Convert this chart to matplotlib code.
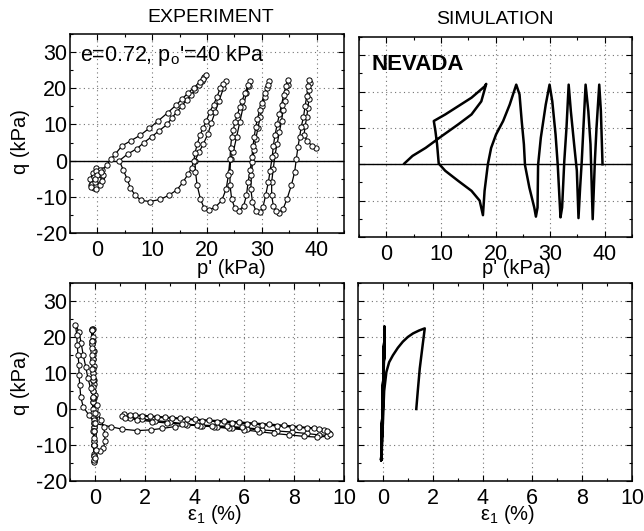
import matplotlib
matplotlib.use("Agg")
import matplotlib.pyplot as plt
from matplotlib.ticker import MultipleLocator

plt.rcParams['font.family'] = ['Liberation Sans', 'DejaVu Sans']
plt.rcParams['mathtext.fontset'] = 'custom'
plt.rcParams['mathtext.rm'] = 'Liberation Sans'
plt.rcParams['mathtext.it'] = 'Liberation Sans:italic'
plt.rcParams['axes.unicode_minus'] = False

# ---------------- data ----------------
# Experiment: effective stress path (p', q)
exp_p = [39.8, 39.2, 38.3, 37.7, 37.9, 38.2, 38.4, 38.6, 38.7, 38.8, 38.7,
         38.5, 38.2, 37.9, 37.6, 37.2, 36.9, 36.6, 36.3,
         36.0, 35.4, 34.6, 33.9, 33.1, 32.5, 32.1, 31.8, 31.8, 32.1,
         32.4, 32.8, 33.2, 33.6, 33.9, 34.2, 34.5, 34.7, 34.7,
         34.4, 34.0, 33.6, 33.2, 32.8, 32.4, 32.1, 31.9,
         31.5, 31.2, 30.7, 30.2, 29.6, 28.9, 28.3, 28.0, 28.1, 28.3,
         28.6, 28.9, 29.3, 29.7, 30.1, 30.5, 30.9, 31.3,
         31.1, 30.5, 30.0, 29.6, 29.2, 28.9, 28.6, 28.4, 28.2,
         27.9, 27.5, 27.2, 26.7, 25.9, 25.1, 24.5, 24.2, 24.2, 24.3,
         24.8, 25.4, 26.0, 26.6, 27.2, 27.6, 27.9,
         27.5, 26.9, 26.4, 26.0, 25.5, 25.1, 24.8, 24.5, 24.3, 24.2,
         23.9, 23.5, 22.7, 21.5, 20.4, 19.5, 18.8, 18.2, 17.9, 17.8,
         18.6, 19.3, 20.2, 20.8, 21.5, 22.2, 23.0, 23.4,
         23.0, 22.4, 21.8, 21.2, 20.5, 19.9, 19.3, 18.7, 18.2, 17.8, 17.6,
         17.2, 16.6, 15.6, 14.5, 13.0, 11.5, 9.6, 8.0, 6.9, 6.0, 5.4, 4.7, 4.0,
         5.5, 7.2, 8.5, 9.9, 11.3, 12.7, 13.6, 14.5, 15.4, 16.3, 17.1, 17.8, 18.5, 19.0, 19.5,
         19.9, 19.3, 18.7, 17.6, 16.6, 15.5, 14.4, 12.8, 11.1, 9.5, 7.8, 6.1, 4.5, 3.3, 2.5, 1.7,
         0.8, 0.2, -0.5, -1.0, -1.2, -0.6, 0.2, 0.6, 0.3, -0.2, -0.8, -1.3, -1.0, -0.3,
         0.4, 0.8, 0.4, -0.3, -0.7, -0.4, 0.1, 0.0, -0.5, -1.1, -0.2, 0.5, 0.9, 1.1, 0.6]
exp_q = [3.6, 4.0, 5.5, 7.0, 9.5, 12.0, 14.5, 17.0, 19.5, 21.5, 22.3,
         20.5, 18.0, 15.0, 12.0, 9.4, 6.5, 3.8, 0.5,
         -3.1, -6.8, -10.6, -13.3, -14.4, -14.0, -12.4, -9.6, -5.9, -2.2,
         1.5, 4.7, 8.0, 11.0, 14.0, 16.5, 19.0, 21.0, 22.3,
         20.5, 18.2, 15.5, 12.8, 10.0, 7.0, 4.0, 1.0,
         -3.0, -5.9, -9.6, -12.9, -14.3, -13.8, -11.5, -7.8, -4.1, -0.5,
         3.0, 6.0, 9.0, 12.0, 15.0, 17.5, 20.0, 22.0,
         20.8, 18.6, 16.0, 14.0, 11.5, 9.4, 6.5, 4.0, 1.0,
         -2.5, -5.9, -9.6, -12.4, -13.8, -13.2, -10.6, -6.8, -3.1, 0.5,
         2.4, 6.6, 10.7, 14.9, 18.6, 20.5, 21.9,
         21.0, 18.6, 16.5, 14.9, 12.5, 10.7, 8.5, 6.6, 3.5, 0.5,
         -4.1, -7.8, -11.0, -12.9, -13.6, -13.2, -10.6, -6.8, -3.1, 0.0,
         2.5, 4.5, 7.5, 10.5, 13.5, 16.5, 20.0, 22.0,
         21.3, 20.0, 17.5, 15.5, 13.5, 11.0, 9.0, 7.0, 4.5, 2.0, 0.0,
         -2.0, -3.6, -6.0, -8.1, -9.6, -10.7, -11.3, -11.0, -9.6, -7.5, -5.0, -2.5, 0.0,
         1.8, 3.3, 5.0, 6.6, 8.3, 10.0, 11.8, 13.5, 15.1, 16.8, 18.2, 19.5, 20.8, 21.9, 23.0,
         23.7, 22.7, 21.7, 20.2, 18.8, 17.1, 15.4, 13.2, 11.0, 9.0, 7.0, 5.5, 4.1, 1.9, 0.5, -1.3,
         -2.5, -3.5, -4.0, -5.5, -6.8, -7.5, -6.5, -5.0, -3.0, -2.0, -3.5, -5.0, -6.5, -7.0,
         -5.8, -4.2, -2.5, -2.8, -4.5, -6.0, -5.2, -4.0, -5.0, -7.2, -7.8, -6.8, -5.5, -4.0, -3.2]

# Experiment: axial strain (%) vs q
exp_eps = [0.0, -0.01, -0.02, -0.03, -0.04, -0.06, -0.08,
           -0.08, -0.07, -0.06, -0.05, -0.05, -0.04, -0.04, -0.03, -0.03, -0.03,
           -0.04, -0.05, -0.06, -0.07, -0.08, -0.09, -0.10,
           -0.10, -0.09, -0.08, -0.07, -0.06, -0.05, -0.05, -0.04, -0.04, -0.03,
           -0.04, -0.05, -0.06, -0.08, -0.09, -0.10, -0.11,
           -0.11, -0.10, -0.09, -0.08, -0.07, -0.06, -0.05, -0.04, -0.03,
           -0.04, -0.05, -0.07, -0.08, -0.10, -0.11, -0.12,
           -0.11, -0.10, -0.09, -0.07, -0.05, -0.03, 0.0,
           0.10, 0.25, 0.35, 0.40, 0.40, 0.34, 0.20, 0.05, -0.02, -0.03, 0.02,
           0.07, -0.06, -0.17, -0.28, -0.37, -0.47, -0.55, -0.64, -0.78,
           -0.73, -0.71, -0.68, -0.64, -0.64, -0.61, -0.57, -0.47, -0.24,
           0.0, 0.63, 1.1, 1.7, 2.24, 2.7, 3.2, 3.7,
           4.3, 4.9, 5.5, 6.1, 6.7, 7.3, 7.9, 8.5, 9.0, 9.35,
           9.4, 9.2, 8.8,
           8.2, 7.6, 7.0, 6.4, 5.8, 5.2, 4.6, 4.0, 3.4, 2.8, 2.2, 1.6, 1.15,
           1.1, 1.4,
           1.9, 2.4, 3.0, 3.6, 4.2, 4.8, 5.4, 6.0, 6.6, 7.2, 7.8, 8.4, 8.9, 9.3, 9.45,
           9.3, 9.0, 8.5, 7.9, 7.3, 6.7, 6.1, 5.5, 4.9, 4.3, 3.7, 3.1, 2.5, 1.9, 1.4,
           1.2, 1.7, 2.3, 2.9, 3.5, 4.1, 4.7, 5.3, 5.9, 6.5]
exp_eq = [0.0, 4.0, 8.0, 12.0, 16.0, 20.0, 22.3,
          19.0, 15.0, 11.0, 7.0, 3.0, -1.0, -5.0, -9.0, -12.5, -14.4,
          -10.0, -5.0, 0.0, 5.0, 10.0, 16.0, 22.3,
          18.0, 14.0, 10.0, 6.0, 2.0, -2.0, -6.0, -10.0, -13.0, -14.6,
          -10.0, -4.0, 2.0, 8.0, 14.0, 19.0, 22.0,
          18.0, 13.0, 8.0, 3.0, -2.0, -6.0, -10.0, -13.0, -14.3,
          -9.0, -3.0, 3.0, 9.0, 15.0, 19.0, 22.0,
          17.0, 11.0, 5.0, -1.0, -6.0, -10.0, -13.6,
          -1.5, -3.0, -5.0, -7.0, -9.0, -10.9, -11.8, -11.5, -8.0, -4.0, -1.0,
          1.1, 3.4, 5.7, 8.5, 11.8, 15.0, 18.2, 21.5, 23.3,
          20.6, 17.8, 15.0, 12.2, 9.4, 6.7, 3.4, 0.6, -1.7,
          -4.0, -4.9, -5.6, -6.0, -5.8, -5.4, -4.9, -4.4,
          -4.6, -4.9, -5.2, -5.5, -5.8, -6.1, -6.4, -6.8, -7.2, -7.3,
          -6.6, -5.9, -5.3,
          -4.9, -4.5, -4.2, -3.9, -3.6, -3.3, -3.1, -2.8, -2.5, -2.2, -1.9, -1.6, -1.4,
          -2.0, -2.4,
          -2.8, -3.2, -3.6, -4.1, -4.6, -5.0, -5.4, -5.8, -6.3, -6.8, -7.2, -7.6, -7.8, -7.6, -7.0,
          -6.2, -5.6, -5.3, -5.0, -4.7, -4.4, -4.1, -3.8, -3.5, -3.2, -2.9, -2.6, -2.3, -2.0, -1.7,
          -2.4, -3.0, -3.5, -3.9, -4.2, -4.4, -4.6, -4.8, -5.1, -5.5]

# Simulation: effective stress path (p', q)
sim_p = [39.6, 39.3, 39.0, 38.5, 38.2, 37.8, 37.8, 37.4, 37.0, 36.5,
         36.1, 35.8, 35.5, 35.2, 34.9, 34.4, 33.8, 33.4,
         33.0, 32.6, 32.2, 31.9, 31.9, 31.4, 31.0, 30.4, 29.9,
         29.2, 28.3, 27.8, 27.7, 27.4, 27.1, 26.2, 25.4, 25.2, 24.8, 24.4, 23.8,
         22.6, 21.4, 20.1, 19.2, 18.6, 18.0, 17.7,
         17.1, 15.6, 13.2, 10.8, 9.6, 9.3, 9.0, 8.7,
         10.8, 13.2, 15.6, 18.0, 18.3,
         17.4, 15.6, 13.2, 10.2, 7.2, 4.8, 3.3]
sim_q = [0.0, 14.6, 21.9, 10.0, 0.9, -15.1, -15.1, 5.5, 14.6, 21.9,
         10.0, 0.9, -6.4, -14.8, -1.8, 5.5, 14.6, 21.9,
         10.0, 0.9, -11.9, -14.6, -14.6, -0.2, 8.2, 17.3, 21.9,
         16.4, 7.3, -0.2, -11.9, -14.4, -11.9, -6.4, -0.2, 5.5, 11.9, 19.2, 21.9,
         16.4, 11.9, 8.2, 4.5, 0.0, -7.3, -14.0,
         -10.0, -7.3, -4.6, -1.8, 0.2, 5.5, 9.1, 11.9,
         13.7, 16.0, 18.3, 21.4, 22.1,
         17.3, 13.7, 11.0, 7.8, 4.5, 2.3, 0.2]

# Simulation: axial strain (%) vs q
sim_eps = [0.0, 0.07, -0.07, 0.07, -0.07, 0.07, -0.07, 0.07, -0.07, 0.07,
           -0.06, 0.05, 0.14, 0.25, 0.40, 0.60, 0.80, 1.00, 1.21, 1.45, 1.68,
           1.60, 1.48, 1.40, 1.34]
sim_eq = [0.0, 22.8, -14.2, 22.8, -14.2, 22.8, -14.2, 22.8, -14.2, 22.8,
          -14.2, 5.0, 10.3, 13.0, 14.9, 17.0, 18.7, 20.0, 21.0, 21.8, 22.4,
          18.0, 11.3, 5.0, 0.0]

p_ticks = [0, 10, 20, 30, 40]
q_ticks = [-20, -10, 0, 10, 20, 30]
e_ticks = [0, 2, 4, 6, 8, 10]

# ---------------- figure ----------------
W, H = 644, 531
fig = plt.figure(figsize=(W / 100, H / 100), dpi=100)


def box(l, t, r, b):
    return [l / W, 1 - b / H, (r - l) / W, (b - t) / H]


ax_tl = fig.add_axes(box(70, 34, 344, 233))
ax_tr = fig.add_axes(box(359, 37, 632, 237))
ax_bl = fig.add_axes(box(70, 283, 344, 481))
ax_br = fig.add_axes(box(358, 283, 632, 481))

FS = 15.5
LFS = 14.5
grid_kw = dict(color='0.45', linestyle=(0, (1, 3)), linewidth=0.8)

for ax in (ax_tl, ax_tr, ax_bl, ax_br):
    ax.set_ylim(-20, 35)
    ax.set_yticks(q_ticks)
    ax.yaxis.set_minor_locator(MultipleLocator(5))
    ax.tick_params(which='both', direction='in', top=True, right=True,
                   labelsize=FS, width=0.8)
    ax.tick_params(which='major', length=4, pad=5)
    ax.tick_params(axis='y', which='major', pad=2)
    ax.tick_params(which='minor', length=2.5)
    ax.grid(True, which='major', **grid_kw)
    for s in ax.spines.values():
        s.set_linewidth(1.1)

for ax in (ax_tl, ax_tr):
    ax.set_xlim(-5, 45)
    ax.set_xticks(p_ticks)
    ax.xaxis.set_minor_locator(MultipleLocator(5))
    ax.axhline(0, color='k', lw=1.0, zorder=2)

for ax in (ax_bl, ax_br):
    ax.set_xlim(-1, 10)
    ax.set_xticks(e_ticks)
    ax.xaxis.set_minor_locator(MultipleLocator(1))

for ax in (ax_tr, ax_br):
    ax.tick_params(axis='y', labelleft=False)

mk = dict(color='k', lw=0.9, marker='o', markersize=3.8, markerfacecolor='white',
          markeredgecolor='k', markeredgewidth=0.7, zorder=3)
ax_tl.plot(exp_p, exp_q, **mk)
ax_bl.plot(exp_eps, exp_eq, **mk)

ax_tr.plot(sim_p, sim_q, color='k', lw=1.8, zorder=3)
ax_br.plot(sim_eps, sim_eq, color='k', lw=1.8, zorder=3)

ax_tl.text(-3.2, 27.4, "e=0.72, p$_{\\rm o}$'=40 kPa", fontsize=FS, va='baseline', ha='left')
ax_tr.text(-2.7, 26.0, 'NEVADA', fontsize=16, fontweight='bold', va='baseline', ha='left')

fig.text(211 / W, 1 - 17 / H, 'EXPERIMENT', fontsize=14, ha='center', va='center')
fig.text(495 / W, 1 - 20 / H, 'SIMULATION', fontsize=14, ha='center', va='center')
fig.text(231 / W, 1 - 268 / H, "p' (kPa)", fontsize=LFS, ha='center', va='center')
fig.text(516 / W, 1 - 268 / H, "p' (kPa)", fontsize=LFS, ha='center', va='center')
fig.text(215 / W, 1 - 515 / H, 'ε$_1$ (%)', fontsize=LFS, ha='center', va='center')
fig.text(508 / W, 1 - 515 / H, 'ε$_1$ (%)', fontsize=LFS, ha='center', va='center')
fig.text(21 / W, 1 - 142 / H, 'q (kPa)', fontsize=LFS, ha='center', va='center', rotation=90)
fig.text(21 / W, 1 - 383 / H, 'q (kPa)', fontsize=LFS, ha='center', va='center', rotation=90)

fig.savefig('out.png', dpi=100)
